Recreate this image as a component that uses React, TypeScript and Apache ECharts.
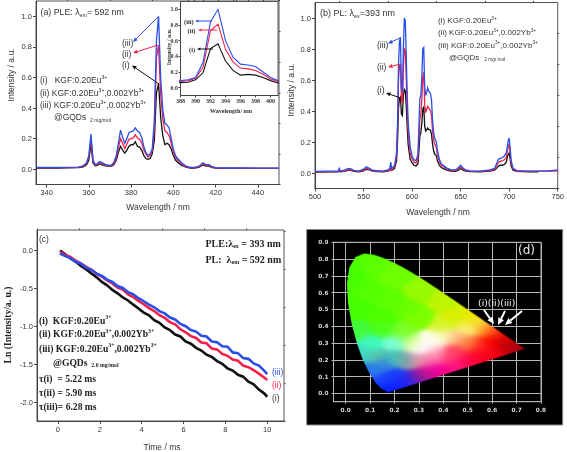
import React, { useEffect, useRef } from "react";
import * as echarts from "echarts";

const wlA = [
  335,345,355,357,358,359,360,360.5,361,361.5,
  362,363,364,365,366,368,370,371,372,373,
  374,375,376,377,378,379,380,381,382,383,
  384,385,386,387,388,389,390,391,392,393,
  394,395,396,397,398,399,400,401,402,403,
  404,406,408,410,412,413,414,415,416,417,
  418,420,425,430,440,450];
const pleBlue = [
  .012,.012,.014,.02,.03,.045,.09,.16,.23,.15,
  .06,.03,.035,.05,.045,.03,.025,.03,.05,.09,
  .17,.255,.21,.17,.2,.24,.245,.25,.27,.25,
  .24,.21,.15,.11,.09,.1,.13,.32,.84,1.0,
  .6,.39,.3,.29,.27,.2,.13,.09,.07,.055,
  .04,.02,.012,.012,.018,.03,.042,.032,.03,.03,
  .018,.01,.008,.008,.007,.007];
const pleRed = [
  .01,.01,.012,.017,.025,.04,.08,.14,.2,.13,
  .05,.028,.03,.042,.038,.027,.022,.027,.04,.075,
  .14,.2,.17,.135,.165,.195,.2,.205,.225,.205,
  .195,.175,.125,.1,.08,.09,.12,.26,.73,.81,
  .49,.33,.25,.24,.22,.17,.11,.08,.06,.045,
  .032,.017,.01,.01,.015,.025,.035,.028,.025,.025,
  .015,.009,.007,.007,.006,.006];
const pleBlack = [
  .008,.008,.01,.013,.02,.03,.06,.11,.16,.1,
  .04,.022,.025,.035,.03,.022,.018,.022,.032,.06,
  .11,.15,.125,.105,.125,.15,.16,.16,.18,.15,
  .145,.125,.09,.07,.065,.07,.1,.19,.5,.56,
  .34,.22,.16,.17,.16,.13,.09,.06,.045,.035,
  .025,.013,.008,.008,.012,.02,.028,.022,.02,.02,
  .012,.007,.005,.005,.005,.005];

const wlB = [
  500,515,524,525,526,530,533,536,540,545,
  550,553,556,560,570,575,577,578,579,582,
  584,585,586,587,588,589,590,591,592,593,
  594,595,596,598,600,602,604,606,607,608,
  609,610,611,612,613,614,615,616,617,618,
  619,620,621,622,623,625,626,628,630,635,
  640,645,648,650,652,655,660,670,680,685,
  687,689,691,693,695,697,698,699,700,701,
  702,704,708,720,730,740,750];
const plBlue = [
  .01,.012,.013,.03,.014,.016,.027,.03,.017,.012,
  .025,.04,.03,.016,.012,.02,.028,.07,.028,.05,
  .13,.32,.7,.85,.875,.55,.52,.8,1.0,.98,
  .75,.5,.32,.17,.11,.085,.08,.12,.3,.48,
  .5,.62,.8,.81,.55,.5,.52,.55,.53,.52,
  .51,.47,.35,.27,.23,.2,.15,.09,.06,.035,
  .02,.02,.038,.05,.035,.02,.013,.012,.02,.03,
  .06,.09,.095,.1,.11,.13,.17,.21,.225,.16,
  .08,.03,.015,.012,.012,.013,.02];
const plRed = [
  .008,.009,.01,.018,.01,.012,.02,.022,.013,.01,
  .018,.03,.023,.012,.01,.016,.02,.04,.02,.04,
  .11,.28,.6,.69,.705,.47,.45,.68,.8,.79,
  .6,.4,.26,.13,.09,.07,.065,.09,.22,.35,
  .38,.47,.62,.65,.44,.39,.41,.43,.42,.41,
  .4,.37,.28,.22,.19,.165,.12,.075,.05,.03,
  .017,.015,.03,.04,.028,.016,.011,.01,.016,.022,
  .045,.07,.075,.08,.085,.1,.14,.17,.185,.13,
  .06,.025,.013,.011,.012,.012,.012];
const plBlack = [
  .006,.007,.008,.012,.008,.01,.015,.018,.01,.008,
  .014,.024,.02,.01,.008,.012,.016,.03,.016,.03,
  .08,.2,.42,.48,.49,.38,.37,.5,.54,.53,
  .43,.29,.18,.09,.065,.05,.045,.06,.14,.24,
  .26,.32,.41,.43,.3,.27,.28,.29,.28,.28,
  .275,.25,.19,.15,.125,.11,.08,.05,.035,.02,
  .012,.01,.02,.03,.02,.012,.009,.008,.012,.018,
  .03,.045,.05,.05,.055,.07,.1,.12,.13,.09,
  .045,.018,.01,.008,.008,null,null];

const tC = [
  .1,.35,.6,.85,1.1,1.35,1.6,1.85,2.1,2.35,
  2.6,2.85,3.1,3.35,3.6,3.85,4.1,4.35,4.6,4.85,
  5.1,5.35,5.6,5.85,6.1,6.35,6.6,6.85,7.1,7.35,
  7.6,7.85,8.1,8.35,8.6,8.85,9.1,9.35,9.6,9.85,10];
const decayBlack = [
  -.0,-.05,-.105,-.15,-.205,-.25,-.305,-.355,-.415,-.46,
  -.52,-.565,-.62,-.66,-.715,-.765,-.82,-.855,-.92,-.955,
  -1.015,-1.05,-1.11,-1.135,-1.2,-1.23,-1.285,-1.32,-1.375,-1.405,
  -1.46,-1.495,-1.555,-1.585,-1.64,-1.665,-1.73,-1.765,-1.835,-1.885,-1.93];
const decayRed = [
  -.02,-.06,-.085,-.135,-.17,-.215,-.255,-.31,-.345,-.395,
  -.435,-.49,-.515,-.58,-.615,-.665,-.71,-.76,-.8,-.855,
  -.89,-.945,-.975,-1.04,-1.08,-1.13,-1.155,-1.215,-1.225,-1.295,
  -1.305,-1.365,-1.39,-1.44,-1.455,-1.52,-1.54,-1.58,-1.625,-1.675,-1.71];
const decayBlue = [
  -.04,-.075,-.1,-.15,-.175,-.23,-.255,-.305,-.335,-.385,
  -.415,-.47,-.495,-.55,-.58,-.63,-.67,-.715,-.75,-.8,
  -.83,-.885,-.91,-.97,-1.0,-1.05,-1.07,-1.125,-1.135,-1.2,
  -1.21,-1.265,-1.27,-1.345,-1.355,-1.42,-1.43,-1.49,-1.52,-1.585,-1.63];

const cieX = [.1741,.144,.1241,.0913,.0687,.0454,.0235,.0082,.0039,.0139,.0389,.0743,.1142,.1547,.1929,.2296,.2658,.3016,.3373,.3731,.4087,.4441,.4788,.5125,.5448,.5752,.6029,.627,.6482,.6658,.6915,.7347];
const cieY = [.005,.0297,.0578,.1327,.2007,.295,.4127,.5384,.6548,.7502,.812,.8338,.8262,.8059,.7816,.7543,.7243,.6923,.6589,.6245,.5896,.5547,.5202,.4866,.4544,.4242,.3965,.3725,.3514,.334,.3083,.2653];
// x, y, r, g, b
const cieColours = [
  [.08,.82,85,255,0],[.02,.6,75,255,0],[.1,.6,85,255,0],[.2,.55,95,255,0],[.3,.6,150,250,0],[.3,.45,125,255,0],
  [.05,.5,70,255,0],[.15,.45,80,255,0],[.2,.7,110,255,0],[.12,.75,95,255,0],[.25,.5,105,255,0],[.03,.72,70,255,0],
  [.4,.55,190,245,0],[.45,.45,215,240,0],[.52,.44,240,235,0],[.4,.4,215,245,40],[.5,.39,250,240,120],[.55,.41,250,210,70],
  [.58,.38,255,130,30],[.62,.36,255,40,10],[.6,.3,255,0,0],[.55,.28,255,50,30],[.5,.3,255,130,70],[.45,.33,255,190,130],
  [.4,.34,250,250,190],[.36,.31,255,255,235],[.3,.27,255,255,255],[.33,.29,255,255,255],[.27,.3,205,255,130],[.23,.36,125,255,40],
  [.15,.38,75,255,30],[.05,.37,65,250,60],[.1,.3,60,250,190],[.2,.3,120,255,215],[.07,.24,60,220,200],[.12,.22,90,200,170],
  [.2,.21,70,195,180],[.1,.14,40,120,235],[.15,.17,50,130,230],[.25,.2,130,160,170],[.17,.03,0,30,255],[.15,.07,30,70,255],
  [.22,.04,20,30,255],[.25,.07,40,40,240],[.2,.1,25,60,250],[.3,.09,120,30,170],[.3,.2,230,150,170],[.33,.12,190,20,140],
  [.36,.14,250,0,170],[.4,.12,240,0,130],[.45,.17,255,20,130],[.42,.22,255,70,120],[.5,.2,255,10,70],[.37,.25,255,170,190],
  [.45,.25,255,60,90],[.55,.23,255,0,40],[.6,.24,240,0,20],[.65,.29,190,0,10],[.72,.27,170,0,20],[.66,.33,210,0,0],[.35,.2,255,110,170],
];

const ticksA = [340,360,380,400,420,440];
const minorA = [350,370,390,410,430,450];
const ticksY = [0,.2,.4,.6,.8,1];
const minorY = [-.1,.1,.3,.5,.7,.9];
const ticksInset = [388,390,392,394,396,398,400];
const minorInset = [389,391,393,395,397,399,401];
const ticksB = [500,550,600,650,700,750];
const minorB = [525,575,625,675,725];
const ticksCx = [0,2,4,6,8,10];
const minorCx = [-1,1,3,5,7,9];
const ticksCy = [-2,-1.5,-1,-.5,0];
const minorCy = [-2.25,-1.75,-1.25,-.75,-.25,.25];
const ticksDx = [0,.1,.2,.3,.4,.5,.6,.7,.8];
const ticksDy = [0,.1,.2,.3,.4,.5,.6,.7,.8,.9];

const BLUE = "#2a4fe8", RED = "#f5204a", BLACK = "#111111";
const SANS = "'Liberation Sans'", SERIF = "'Liberation Serif'";

function makeCie(w: number, h: number, xMax: number, yMax: number) {
  const c = document.createElement("canvas");
  c.width = w; c.height = h;
  const ctx = c.getContext("2d")!;
  const im = ctx.createImageData(w, h);
  const sigma2 = 2 * 0.028 * 0.028;
  for (let j = 0; j < h; j++) for (let i = 0; i < w; i++) {
    const x = (i + .5) / w * xMax, y = yMax - (j + .5) / h * yMax;
    let s = 1e-12, r = 0, g = 0, b = 0;
    for (const a of cieColours) {
      const d = (x - a[0]) ** 2 + (y - a[1]) ** 2;
      const q = Math.exp(-d / sigma2);
      s += q; r += q * a[2]; g += q * a[3]; b += q * a[4];
    }
    const k = (j * w + i) * 4;
    im.data[k] = r / s; im.data[k + 1] = g / s; im.data[k + 2] = b / s; im.data[k + 3] = 255;
  }
  ctx.putImageData(im, 0, 0);
  ctx.globalCompositeOperation = "destination-in";
  ctx.beginPath();
  cieX.forEach((x, i) => {
    const px = x / xMax * w, py = (yMax - cieY[i]) / yMax * h;
    i ? ctx.lineTo(px, py) : ctx.moveTo(px, py);
  });
  ctx.closePath();
  ctx.fill();
  return c.toDataURL();
}

function pair(gridIndex: number, min: number, max: number, major: number[], minor: number[], dec: number, o: any = {}) {
  const lineCol = o.lineColor || "#444";
  return [
    {
      type: "value", gridIndex, min, max,
      axisLine: { show: true, onZero: false, lineStyle: { color: lineCol, width: 1 } },
      axisTick: { show: true, length: o.tick ?? 3, customValues: major, lineStyle: { color: lineCol, width: 1 } },
      axisLabel: {
        show: true, customValues: major, margin: o.margin ?? 4,
        fontFamily: o.font || SANS, fontSize: o.size || 7.5, fontWeight: o.weight || "normal", color: o.color || "#333",
        formatter: (v: number) => v.toFixed(dec),
      },
      splitLine: { show: !!o.split, lineStyle: { color: o.splitColor || "#ccc", width: 1 } },
    },
    {
      type: "value", gridIndex, min, max, 
      axisLine: { show: false, onZero: false },
      axisTick: { show: minor.length > 0, length: 1.5, customValues: minor, lineStyle: { color: lineCol, width: 1 } },
      axisLabel: { show: false },
      splitLine: { show: false },
    },
  ];
}

function lineS(i: number, xs: (number)[], ys: (number | null)[], color: string, width = 1.3, z = 3) {
  return {
    type: "line", xAxisIndex: i * 2, yAxisIndex: i * 2, data: xs.map((x, k) => [x, ys[k]]),
    showSymbol: false, symbol: "none", silent: true, z,
    lineStyle: { color, width, join: "miter" }, connectNulls: false,
  };
}

function T(x: number, y: number, text: string, o: any = {}) {
  const size = o.size || 8.5;
  const font = o.font || SANS;
  const weight = o.weight || "normal";
  const color = o.color || "#333";
  return {
    type: "text", x, y, z: 60, rotation: o.rot || 0, silent: true,
    style: {
      text, fontFamily: font, fontSize: size, fontWeight: weight, fill: color,
      textAlign: o.align || "left", textVerticalAlign: "middle",
      rich: {
        u: { fontFamily: font, fontSize: size * .6, fontWeight: weight, fill: color, verticalAlign: "top", lineHeight: size * 1.2 },
        d: { fontFamily: font, fontSize: size * .6, fontWeight: weight, fill: color, verticalAlign: "bottom", lineHeight: size * 1.2 },
        n: { fontFamily: font, fontSize: size, fontWeight: weight, fill: color, lineHeight: size * 1.2 },
      },
    },
  };
}

function arrow(x1: number, y1: number, x2: number, y2: number, color: string, w = 1, head = 4.5) {
  const a = Math.atan2(y2 - y1, x2 - x1);
  const hx = Math.cos(a), hy = Math.sin(a);
  const bx = x2 - hx * head, by = y2 - hy * head;
  const half = head * .45;
  return [
    { type: "line", z: 55, silent: true, shape: { x1, y1, x2: bx, y2: by }, style: { stroke: color, lineWidth: w } },
    { type: "polygon", z: 55, silent: true, shape: { points: [[x2, y2], [bx - hy * half, by + hx * half], [bx + hy * half, by - hx * half]] }, style: { fill: color } },
  ];
}

export default function App() {
  const ref = useRef<HTMLDivElement>(null);
  useEffect(() => {
    document.body.style.margin = "0";
    const chart = echarts.init(ref.current!, null, { renderer: "svg", width: 567, height: 452 });
    const cieUrl = makeCie(366, 286, .75, .85);

    const grids = [
      { left: 36, top: 1, width: 243, height: 183.5 },
      { left: 180.5, top: 1.5, width: 97.5, height: 94 },
      { left: 315, top: 2.5, width: 244, height: 186 },
      { left: 37, top: 230, width: 247, height: 191 },
      { left: 333.5, top: 242.3, width: 207.5, height: 159.4 },
    ].map((g, i) => ({
      ...g, show: true, borderWidth: 1, borderColor: i === 4 ? "#b5b5b5" : "#555",
      backgroundColor: "transparent", containLabel: false,
    }));

    const inset = { font: SERIF, weight: "bold", size: 6, tick: 2, margin: 2.5, color: "#333" };
    const dAxis = { font: "'DejaVu Sans'", weight: "bold", size: 5.8, color: "#d8d8d8", split: true, splitColor: "#b5b5b5", lineColor: "#b5b5b5", margin: 5, tick: 2 };

    const xAxis = [
      ...pair(0, 335, 450, ticksA, minorA, 0),
      ...pair(1, 388, 401, ticksInset, minorInset, 0, inset),
      ...pair(2, 500, 750, ticksB, minorB, 0),
      ...pair(3, -1, 10.8, ticksCx, minorCx, 0),
      ...pair(4, -.05, .8, ticksDx, [], 1, dAxis),
    ];
    const yAxis = [
      ...pair(0, -.1, 1.1, ticksY, minorY, 1),
      ...pair(1, -.1, 1.1, ticksY, [], 1, inset),
      ...pair(2, -.1, 1.1, ticksY, minorY, 1),
      ...pair(3, -2.25, .27, ticksCy, minorCy, 1),
      ...pair(4, -.05, .9, ticksDy, [], 1, dAxis),
    ];

    const series: any[] = [
      lineS(0, wlA, pleBlack, BLACK), lineS(0, wlA, pleRed, RED), lineS(0, wlA, pleBlue, BLUE),
      lineS(1, wlA, pleBlack, BLACK, 1.1), lineS(1, wlA, pleRed, RED, 1.1), lineS(1, wlA, pleBlue, BLUE, 1.1),
      lineS(2, wlB, plBlack, BLACK), lineS(2, wlB, plRed, RED), lineS(2, wlB, plBlue, BLUE),
      lineS(3, tC, decayBlack, BLACK, 2.6), lineS(3, tC, decayRed, RED, 2.6), lineS(3, tC, decayBlue, BLUE, 2.6),
      {
        type: "custom", xAxisIndex: 8, yAxisIndex: 8, silent: true, z: 5, clip: false,
        data: [[0, .85, .75, 0]],
        renderItem: (_p: any, api: any) => {
          const a = api.coord([api.value(0), api.value(1)]);
          const b = api.coord([api.value(2), api.value(3)]);
          return { type: "image", style: { image: cieUrl, x: a[0], y: a[1], width: b[0] - a[0], height: b[1] - a[1] } };
        },
      },
    ];

    const u = (s: string) => `{u|${s}}`, d = (s: string) => `{d|${s}}`, n = (s: string) => `{n|${s}}`;
    const eu = n("KGF:0.20Eu") + u("3+");
    const yb = eu + n(",0.002Yb") + u("3+");
    const bs = { font: SERIF, weight: "bold", size: 9.6, color: "#222" };

    const graphic: any[] = [
      { type: "rect", z: -10, silent: true, shape: { x: 306.7, y: 229.5, width: 256, height: 195.5 }, style: { fill: "#000", stroke: "#888", lineWidth: 1 } },
      // panel a
      T(40.5, 12, n("(a) PLE: λ") + d("em") + n("= 592 nm"), { size: 8.8 }),
      T(40, 80, n("(i)   ") + eu),
      T(40, 92.5, n("(ii) ") + yb),
      T(40, 105, n("(iii) ") + yb),
      T(54, 117, n("@GQDs ") + d(" 2 mg/mol")),
      T(122, 43, "(iii)"), T(122, 54, "(ii)"), T(122, 65, "(i)"),
      ...arrow(158, 17, 133, 42, BLUE), ...arrow(158, 45, 133, 53, RED), ...arrow(159, 84, 132, 65.5, BLACK),
      T(158, 207, "Wavelength / nm", { align: "center" }),
      T(11, 75, "Intensity / a.u.", { align: "center", rot: Math.PI / 2 }),
      // inset
      T(184, 21, "(iii)", { ...inset, size: 6.5 }), T(187.5, 30, "(ii)", { ...inset, size: 6.5 }), T(189, 49, "(i)", { ...inset, size: 6.5 }),
      ...arrow(212, 21, 195, 21, BLUE, 1, 3.5), ...arrow(217, 30, 198, 30, RED, 1, 3.5), ...arrow(213, 49, 197, 49, BLACK, 1, 3.5),
      T(231, 111, "Wavelength/ nm", { ...inset, align: "center" }),
      T(169, 47, "Intensity / a.u.", { ...inset, align: "center", rot: Math.PI / 2 }),
      // panel b
      T(320, 13, n("(b) PL: λ") + d("ex") + n("=393 nm"), { size: 9 }),
      T(438, 20.5, n("(i) ") + eu, { size: 8 }),
      T(438, 32.5, n("(ii) ") + yb, { size: 8 }),
      T(438, 45, n("(iii) ") + yb, { size: 8 }),
      T(449, 57, n("@GQDs ") + d("  2 mg/ mol"), { size: 8 }),
      T(377, 44.5, "(iii)"), T(377, 67, "(ii)"), T(377, 90, "(i)"),
      ...arrow(401, 37.5, 388, 43.5, BLUE), ...arrow(401, 64, 388, 67, RED), ...arrow(401, 98, 386, 93, BLACK),
      T(438, 212, "Wavelength / nm", { align: "center" }),
      T(291, 90, "Intensity / a.u.", { align: "center", rot: Math.PI / 2 }),
      // panel c
      T(39, 238.5, "(c)"),
      T(205.5, 243, n("PLE:λ") + d("ex") + n(" = 393 nm"), { ...bs, size: 10 }),
      T(205.5, 259, n("PL:  λ") + d("em") + n(" = 592 nm"), { ...bs, size: 10 }),
      T(39, 320, n("(i)  ") + eu, bs),
      T(39, 333.5, n("(ii) ") + yb, bs),
      T(39, 348, n("(iii) ") + yb, bs),
      T(53, 362, n("@GQDs ") + d(" 2.0 mg/mol"), bs),
      T(39, 378, "τ(i)  = 5.22 ms", bs),
      T(39, 392, "τ(ii) = 5.90 ms", bs),
      T(39, 406, "τ(iii)= 6.28 ms", bs),
      T(272, 372, "(iii)", { color: BLUE, size: 8.5 }),
      T(272, 384.5, "(ii)", { color: RED, size: 8.5 }),
      T(272, 397.5, "(i)", { color: "#333", size: 8.5 }),
      T(162, 447, "Time / ms", { align: "center" }),
      T(7, 325, "Ln (Intensity/a. u.)", { ...bs, align: "center", rot: Math.PI / 2 }),
      // panel d
      T(518, 250, "(d)", { font: "'DejaVu Sans'", size: 12, color: "#e8e8e8" }),
      T(478, 302, "(i)(ii)(iii)", { font: "'DejaVu Sans'", size: 9.3, color: "#f0f0f0" }),
      ...arrow(484, 310, 494, 324, "#fff", 2, 7),
      ...arrow(505, 311, 498, 325, "#fff", 2, 7),
      ...arrow(522, 311, 505, 325, "#fff", 2, 7),
    ];

    chart.setOption({
      animation: false,
      backgroundColor: "#fff",
      grid: grids,
      xAxis, yAxis, series, graphic,
    });
    return () => chart.dispose();
  }, []);
  return <div ref={ref} style={{ position: "absolute", left: 0, top: 0, width: 567, height: 452, filter: "blur(0.35px)" }} />;
}
